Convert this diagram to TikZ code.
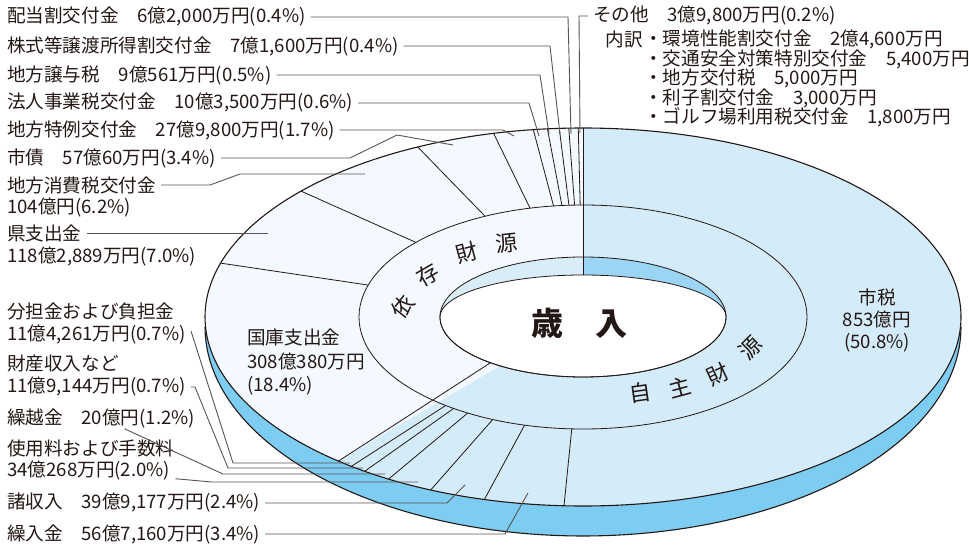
\documentclass[tikz,border=0pt]{standalone}
\usepackage{fontspec}
\setmainfont{Noto Sans CJK JP}
\definecolor{ink}{HTML}{231815}
\definecolor{jishu}{HTML}{D4ECF9}
\definecolor{izon}{HTML}{F3F9FE}
\definecolor{sidecol}{HTML}{7DCDF2}
\definecolor{walljishu}{HTML}{9CD5F3}
\definecolor{wallizon}{HTML}{D9EDF9}
\newcommand{\lblsize}{\fontsize{18.6}{23.5}\selectfont}

\begin{document}
\begin{tikzpicture}[x=1pt,y=-1pt,
    lbl/.style={anchor=west,inner xsep=5pt,inner ysep=1pt,text=ink,font=\lblsize},
    inlbl/.style={inner sep=0pt,text=ink,font=\lblsize},
    ringtxt/.style={inner sep=0pt,text=ink,font=\fontsize{22}{22}\selectfont},
    leader/.style={draw=ink!75,line width=0.9pt},
    rim/.style={draw=ink,line width=1.1pt},
    cut/.style={draw=ink,line width=0.8pt}]
\useasboundingbox (0,0) rectangle (969,548);
\def\cx{583}\def\cy{317}

% side of the disc
\fill[sidecol] plot[domain=0:180,samples=120] ({\cx+378*cos(\x)},{\cy+10+209*sin(\x)}) -- cycle;
\draw[rim] plot[domain=0:180,samples=120] ({\cx+378*cos(\x)},{\cy+10+209*sin(\x)});

% top face
\fill[izon] (\cx,\cy) ellipse[x radius=378,y radius=189];
\fill[jishu] (\cx,\cy) -- plot[domain=-90:130.32,samples=160] ({\cx+378*cos(\x)},{\cy+189*sin(\x)}) -- cycle;

% hole
\fill[wallizon] (\cx,\cy) ellipse[x radius=143,y radius=60];
\fill[walljishu] (\cx,\cy) -- plot[domain=-90:0,samples=60] ({\cx+143*cos(\x)},{\cy+60*sin(\x)}) -- cycle;
\filldraw[fill=white,cut] plot[domain=180:360,samples=100] ({\cx+143*cos(\x)},{\cy+42*sin(\x)})
  -- plot[domain=0:180,samples=100] ({\cx+143*cos(\x)},{\cy+60*sin(\x)}) -- cycle;
\draw[cut] (\cx,\cy) ellipse[x radius=143,y radius=60];
\draw[cut] (\cx,\cy) ellipse[x radius=224,y radius=112];
\draw[rim] (\cx,\cy) ellipse[x radius=378,y radius=189];

\foreach \p in {50.8,54.2,56.6,58.6,59.8,60.5,79.6,86.6,92.8,96.2,97.9,98.5,99.0,99.4,99.8}
  \draw[cut] ({\cx+224*cos(3.6*\p-90)},{\cy+112*sin(3.6*\p-90)}) -- ({\cx+378*cos(3.6*\p-90)},{\cy+189*sin(3.6*\p-90)});
\draw[cut] (\cx,{\cy-42}) -- (\cx,{\cy-189});
\draw[cut] ({\cx+143*cos(130.32)},{\cy+60*sin(130.32)}) -- ({\cx+378*cos(130.32)},{\cy+189*sin(130.32)});

% texts on the chart
\node[font=\fontsize{32}{32}\selectfont\bfseries,text=ink] (sainyu) at (579,323) {歳　入};
\foreach \ch/\px/\py/\r [count=\i] in {依/403/307/52,存/428/275/30,財/467/253/15,源/507/243/6,
    自/640/393/8,主/680/387/15,財/718/374/25,源/750/348/45}
  \node[ringtxt,rotate=\r] (ring\i) at (\px,\py) {\ch};
\node[inlbl,anchor=north west,align=left] (kokko) at (247,329) {国庫支出金\\308億380万円\\(18.4\%)};
\node[inlbl,align=center,font=\fontsize{18.6}{22}\selectfont] (shizei) at (877,320) {市税\\853億円\\(50.8\%)};

% labels
\node[lbl] (haito) at (2,17) {配当割交付金　6億2,000万円(0.4\%)};
\node[lbl] (kabu) at (2,46) {株式等譲渡所得割交付金　7億1,600万円(0.4\%)};
\node[lbl] (joyo) at (2,75) {地方譲与税　9億561万円(0.5\%)};
\node[lbl] (hojin) at (2,103) {法人事業税交付金　10億3,500万円(0.6\%)};
\node[lbl] (tokurei) at (2,130) {地方特例交付金　27億9,800万円(1.7\%)};
\node[lbl] (shisai) at (2,158) {市債　57億60万円(3.4\%)};
\node[lbl] (shohi) at (2,185) {地方消費税交付金};
\node[lbl] (shohi2) at (2,208) {104億円(6.2\%)};
\node[lbl] (ken) at (2,233) {県支出金};
\node[lbl] (ken2) at (2,257) {118億2,889万円(7.0\%)};
\node[lbl] (buntan) at (2,311) {分担金および負担金};
\node[lbl] (buntan2) at (2,335) {11億4,261万円(0.7\%)};
\node[lbl] (zaisan) at (2,363) {財産収入など};
\node[lbl] (zaisan2) at (2,387) {11億9,144万円(0.7\%)};
\node[lbl] (kurikoshi) at (2,418) {繰越金　20億円(1.2\%)};
\node[lbl] (shiyo) at (2,448) {使用料および手数料};
\node[lbl] (shiyo2) at (2,471) {34億268万円(2.0\%)};
\node[lbl] (shoshu) at (2,503) {諸収入　39億9,177万円(2.4\%)};
\node[lbl] (kuriire) at (2,534) {繰入金　56億7,160万円(3.4\%)};

\node[lbl] (sonota) at (588,16) {その他　3億9,800万円(0.2\%)};
\node[lbl,anchor=east] (uchiwake) at (648,39) {内訳};
\node[lbl] (item1) at (639,39) {・環境性能割交付金　2億4,600万円};
\node[lbl] (item2) at (639,59) {・交通安全対策特別交付金　5,400万円};
\node[lbl] (item3) at (639,78) {・地方交付税　5,000万円};
\node[lbl] (item4) at (639,98) {・利子割交付金　3,000万円};
\node[lbl] (item5) at (639,117) {・ゴルフ場利用税交付金　1,800万円};

% leader points
\coordinate (sonota-b) at (579,16);   \coordinate (sonota-e) at (580,133);
\coordinate (haito-b) at (568,17);    \coordinate (haito-e) at (571,134);
\coordinate (kabu-b) at (550,46);     \coordinate (kabu-e) at (560,134);
\coordinate (joyo-b) at (540,75);     \coordinate (joyo-e) at (549,134);
\coordinate (hojin-b) at (529,103);   \coordinate (hojin-e) at (539,136);
\coordinate (tokurei-b) at (503,130); \coordinate (tokurei-e) at (514,136);
\coordinate (shisai-b) at (350,158);  \coordinate (shisai-c) at (397,135); \coordinate (shisai-e) at (453,145);
\coordinate (shohi-b) at (210,185);   \coordinate (shohi-c) at (240,174);  \coordinate (shohi-e) at (365,174);
\coordinate (ken-e) at (268,233);
\coordinate (buntan-b) at (191,331);  \coordinate (buntan-c) at (233,463); \coordinate (buntan-e) at (350,463);
\coordinate (zaisan-b) at (195,387);  \coordinate (zaisan-c) at (228,468); \coordinate (zaisan-e) at (363,468);
\coordinate (kurikoshi-c) at (223,474); \coordinate (kurikoshi-e) at (385,474);
\coordinate (shiyo-c) at (212,482);   \coordinate (shiyo-e) at (418,482);
\coordinate (shoshu-c) at (447,503);  \coordinate (shoshu-e) at (465,485);
\coordinate (kuriire-c) at (505,534); \coordinate (kuriire-e) at (528,493);

\draw[leader] (sonota.west) -- (sonota-b) -- (sonota-e);
\draw[leader] (haito) -- (haito-b) -- (haito-e);
\draw[leader] (kabu) -- (kabu-b) -- (kabu-e);
\draw[leader] (joyo) -- (joyo-b) -- (joyo-e);
\draw[leader] (hojin) -- (hojin-b) -- (hojin-e);
\draw[leader] (tokurei) -- (tokurei-b) -- (tokurei-e);
\draw[leader] (shisai) -- (shisai-b) -- (shisai-c) -- (shisai-e);
\draw[leader] (shohi) -- (shohi-b) -- (shohi-c) -- (shohi-e);
\draw[leader] (ken) -- (ken-e);
\draw[leader] (buntan2) -- (buntan-b) -- (buntan-c) -- (buntan-e);
\draw[leader] (zaisan2) -- (zaisan-b) -- (zaisan-c) -- (zaisan-e);
\draw[leader] (kurikoshi) -- (kurikoshi-c) -- (kurikoshi-e);
\draw[leader] (shiyo2) -- (shiyo-c) -- (shiyo-e);
\draw[leader] (shoshu) -- (shoshu-c) -- (shoshu-e);
\draw[leader] (kuriire) -- (kuriire-c) -- (kuriire-e);
\end{tikzpicture}
\end{document}
